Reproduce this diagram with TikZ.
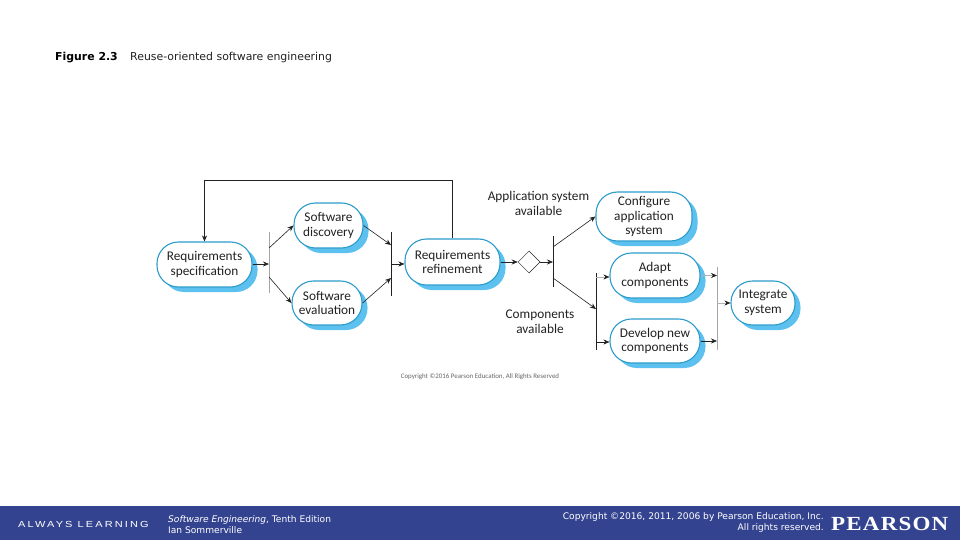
\documentclass[tikz,border=0pt]{standalone}
\usepackage{fontspec}
\setmainfont{Carlito}
\newfontfamily\verd{DejaVu Sans}
\newfontfamily\alwaysf[LetterSpace=24,FakeStretch=1.25]{Liberation Sans}
\newfontfamily\pearsonf[LetterSpace=6,FakeStretch=1.15]{Liberation Serif}
\usetikzlibrary{shadows,shapes.geometric,arrows.meta}
\definecolor{barblue}{HTML}{34438F}
\definecolor{edgeblue}{HTML}{2C9CCB}
\definecolor{shadeblue}{HTML}{5CC1EE}
\definecolor{ink}{HTML}{222222}
\tikzset{
  x=1pt,y=-1pt,
  procbox/.style={draw=edgeblue,line width=1.1pt,fill=white,rounded corners=21.5pt,inner sep=0pt,
    align=center,font=\fontsize{13.3}{14.6}\selectfont,text=ink,
    copy shadow={shadow xshift=5.5pt,shadow yshift=-5pt,fill=shadeblue,draw=none,opacity=1}},
  flow/.style={draw=ink,line width=0.6pt,-{Stealth[length=6pt,width=5pt]}},
  softflow/.style={draw=gray!60,line width=0.6pt,-{Stealth[length=6pt,width=5pt,color=ink]}},
  barline/.style={draw=ink,line width=0.8pt},
  thinbar/.style={draw=gray!70,line width=0.6pt},
  guard/.style={font=\fontsize{13.3}{14.6}\selectfont,text=ink,align=center,inner sep=0pt},
  footer/.style={font=\verd\fontsize{9.1}{11}\selectfont,text=white,inner sep=0pt,anchor=west,align=left},
}
\begin{document}
\begin{tikzpicture}
\useasboundingbox (0,0) rectangle (960,540);
\fill[white] (0,0) rectangle (960,540);
\fill[barblue] (0,506) rectangle (960,540);

\node[font=\verd\fontsize{10.9}{12}\selectfont,text=black,inner sep=0pt,anchor=west] (fig) at (55,57.5) {\textbf{Figure 2.3}};
\node[font=\verd\fontsize{10.9}{12}\selectfont,text=ink,inner sep=0pt,anchor=west] (title) at (130,57.5) {Reuse-oriented software engineering};

\node[procbox,minimum width=95pt,minimum height=45pt] (rs) at (204.5,264.5) {Requirements\\specification};
\node[procbox,minimum width=69pt,minimum height=45pt] (sd) at (328.5,225.5) {Software\\discovery};
\node[procbox,minimum width=70pt,minimum height=44pt] (se) at (327,303) {Software\\evaluation};
\node[procbox,minimum width=95pt,minimum height=46pt] (rr) at (452.5,262) {Requirements\\refinement};
\node[procbox,minimum width=96pt,minimum height=49pt] (ca) at (644,216.5) {Configure\\application\\system};
\node[procbox,minimum width=90pt,minimum height=45pt] (ad) at (655,275.5) {Adapt\\components};
\node[procbox,minimum width=90pt,minimum height=44pt] (dn) at (655,341) {Develop new\\components};
\node[procbox,minimum width=64pt,minimum height=44pt] (is) at (763,303) {Integrate\\system};

\node[draw=ink,line width=0.5pt,fill=white,diamond,minimum width=22pt,minimum height=22pt,inner sep=0pt,aspect=1] (dec) at (529,262) {};

\node[guard] (lapp) at (538.5,203.5) {Application system\\available};
\node[guard] (lcomp) at (540,322) {Components\\available};
\node[font=\fontsize{6.9}{8}\selectfont,text=gray!80!black,inner sep=0pt] (copy) at (480,376.5) {Copyright ©2016 Pearson Education, All Rights Reserved};

% synchronisation bars
\coordinate (b1t) at (269,232); \coordinate (b1b) at (269,293);
\coordinate (b2t) at (391,232); \coordinate (b2b) at (391,296);
\coordinate (b3t) at (553,236); \coordinate (b3b) at (553,287);
\coordinate (b4t) at (596,273); \coordinate (b4b) at (596,350);
\coordinate (b5t) at (717,267); \coordinate (b5b) at (717,350);
\draw[thinbar] (b1t) -- (b1b);
\draw[barline] (b2t) -- (b2b);
\draw[barline] (b3t) -- (b3b);
\draw[barline] (b4t) -- (b4b);
\draw[thinbar] (b5t) -- (b5b);

\coordinate (c1) at (269,264);
\coordinate (c1a) at (269,248); \coordinate (c1b) at (269,277);
\coordinate (c2a) at (391,245); \coordinate (c2b) at (391,278); \coordinate (c2c) at (391,264);
\coordinate (c3) at (553,262); \coordinate (c3a) at (553,247); \coordinate (c3b) at (553,278);
\coordinate (c4) at (596,309); \coordinate (c4a) at (596,277); \coordinate (c4b) at (596,342);
\coordinate (c5a) at (717,275.5); \coordinate (c5b) at (717,341); \coordinate (c5c) at (717,303);
\coordinate (top) at (452.5,180.5);

\draw[flow] (rs.east |- c1) -- (c1);
\draw[flow] (c1a) -- (sd.west);
\draw[flow] (c1b) -- (se.west);
\draw[flow] (sd.east) -- (c2a);
\draw[flow] (se.east) -- (c2b);
\draw[flow] (c2c) -- (rr.west |- c2c);
\draw[flow] (rr.north) -- (top) -| (rs.north);
\draw[flow] (rr.east) -- (dec.west);
\draw[flow] (dec.east) -- (c3);
\draw[flow] (c3a) -- (ca.west);
\draw[flow] (c3b) -- (c4);
\draw[softflow] (c4a) -- (ad.west |- c4a);
\draw[flow] (c4b) -- (dn.west |- c4b);
\draw[softflow] (ad.east) -- (c5a);
\draw[flow] (dn.east) -- (c5b);
\draw[softflow] (c5c) -- (is.west);

% footer
\node[font=\alwaysf\fontsize{8.8}{10}\selectfont,text=white,inner sep=0pt,anchor=west] (always) at (18,524) {ALWAYS LEARNING};
\node[footer] (book) at (168,519.5) {\textit{Software Engineering},\ Tenth Edition};
\node[footer] (auth) at (168,530) {Ian Sommerville};
\node[footer,anchor=east] (cr1) at (824,517) {Copyright ©2016, 2011, 2006 by Pearson Education, Inc.};
\node[footer,anchor=east] (cr2) at (824,528) {All rights reserved.};
\node[font=\pearsonf\bfseries\fontsize{20}{22}\selectfont,text=white,inner sep=0pt,anchor=west] (logo) at (831,524) {PEARSON};
\end{tikzpicture}
\end{document}
